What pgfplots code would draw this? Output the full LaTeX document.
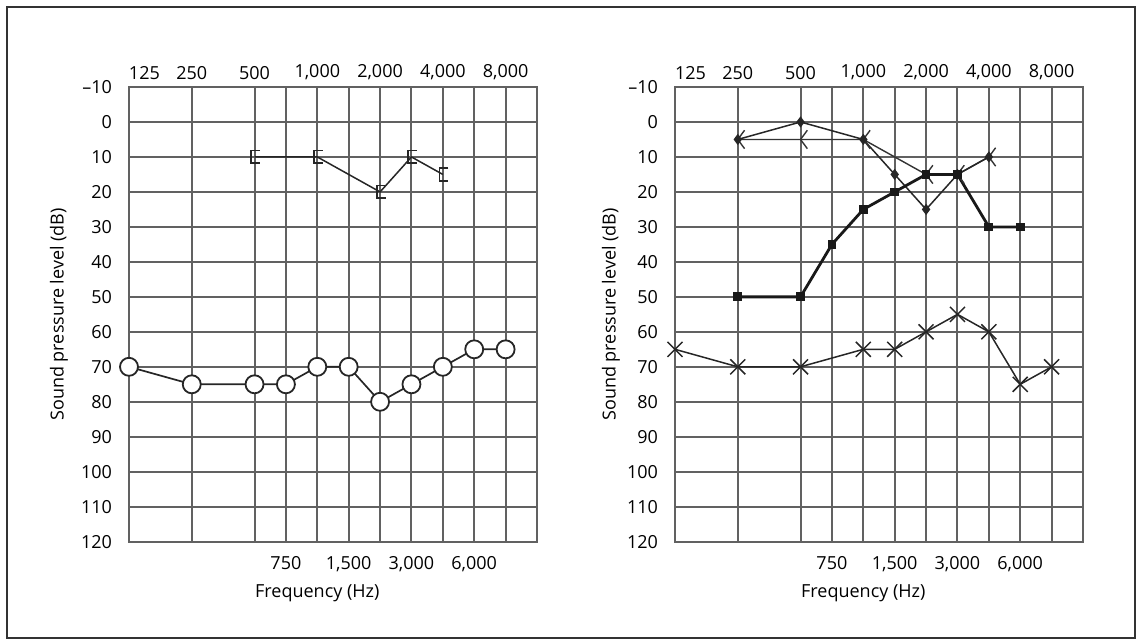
\documentclass[border=0pt]{standalone}
\usepackage{fontspec}
\setmainfont{Open Sans}
\usepackage{pgfplots}
\pgfplotsset{compat=1.18}

% masking bracket and chevron symbols of the audiogram
\pgfdeclareplotmark{bracket}{%
  \pgfpathmoveto{\pgfqpoint{2.8pt}{3.2pt}}%
  \pgfpathlineto{\pgfqpoint{-1.6pt}{3.2pt}}%
  \pgfpathlineto{\pgfqpoint{-1.6pt}{-3.2pt}}%
  \pgfpathlineto{\pgfqpoint{2.8pt}{-3.2pt}}%
  \pgfusepathqstroke}
\pgfdeclareplotmark{chevron}{%
  \pgfpathmoveto{\pgfqpoint{3.4pt}{4.6pt}}%
  \pgfpathlineto{\pgfqpoint{0pt}{0pt}}%
  \pgfpathlineto{\pgfqpoint{3.4pt}{-4.6pt}}%
  \pgfusepathqstroke}

\pgfplotsset{audio/.style={
  scale only axis, width=204pt, height=227.35pt, anchor=south west,
  xmin=0, xmax=13, ymin=-10, ymax=120, y dir=reverse,
  xtick={0,2,4,5,6,7,8,9,10,11,12},
  xticklabels={\makebox[0pt][l]{125},250,500,,{1,000},,{2,000},,{4,000},,{8,000}},
  xticklabel pos=upper,
  ytick={-10,0,10,20,30,40,50,60,70,80,90,100,110,120},
  yticklabels={–10,0,10,20,30,40,50,60,70,80,90,100,110,120},
  grid=major, grid style={draw=black!62, line width=1pt},
  axis line style={draw=black!62, line width=1pt},
  major tick length=0pt,
  tick label style={font=\fontsize{9}{10}\selectfont},
  label style={font=\fontsize{9}{10}\selectfont},
  yticklabel shift=5pt,
  xlabel={Frequency (Hz)},
  ylabel={Sound pressure level (dB)},
  xlabel style={at={(axis description cs:0.4615,0)}, anchor=center, yshift=-26pt},
  clip=false,
}}
\newcommand\lowerlabels{%
  \foreach \p/\t in {5/750,7/{1,500},9/{3,000},11/{6,000}}{%
    \edef\temp{\noexpand\node[font=\noexpand\fontsize{9}{10}\noexpand\selectfont, anchor=north, inner sep=0pt]
      at ([yshift=-7pt]axis cs:\p,120) {\t};}\temp}}

\begin{document}
\begin{tikzpicture}
\useasboundingbox (0,0) rectangle (571pt,320.5pt);
\draw[black!80, line width=0.6pt] (3.5pt,1.5pt) rectangle (567.5pt,317pt);

% left audiogram
\begin{axis}[audio, at={(64.5pt,49.65pt)},
  ylabel style={at={([xshift=-35pt]axis description cs:0,0.5)}, anchor=center}]
\addplot[black!85, line width=0.75pt, mark=bracket, mark options={line width=0.85pt}]
  coordinates {(4,10) (6,10) (8,20) (9,10) (10,15)};
\addplot[black!85, line width=0.85pt, mark=*, mark size=4.5pt,
  mark options={fill=white, line width=0.9pt}]
  coordinates {(0,70) (2,75) (4,75) (5,75) (6,70) (7,70) (8,80) (9,75) (10,70) (11,65) (12,65)};
\lowerlabels
\end{axis}

% right audiogram
\begin{axis}[audio, at={(337.5pt,49.65pt)},
  ylabel style={at={([xshift=-32pt]axis description cs:0,0.5)}, anchor=center}]
\addplot[black!85, line width=0.75pt, mark=x, mark size=5.3pt, mark options={line width=0.75pt}]
  coordinates {(0,65) (2,70) (4,70) (6,65) (7,65) (8,60) (9,55) (10,60) (11,75) (12,70)};
\addplot[black!80, line width=0.7pt, mark=chevron, mark options={line width=0.7pt}]
  coordinates {(2,5) (4,5) (6,5) (8,15) (9,15) (10,10)};
\addplot[black!85, line width=0.75pt, mark=diamond*, mark size=2.2pt]
  coordinates {(2,5) (4,0) (6,5) (7,15) (8,25) (9,15) (10,10)};
\addplot[black!90, line width=1.4pt, mark=square*, mark size=1.5pt]
  coordinates {(2,50) (4,50) (5,35) (6,25) (7,20) (8,15) (9,15) (10,30) (11,30)};
\lowerlabels
\end{axis}
\end{tikzpicture}
\end{document}
